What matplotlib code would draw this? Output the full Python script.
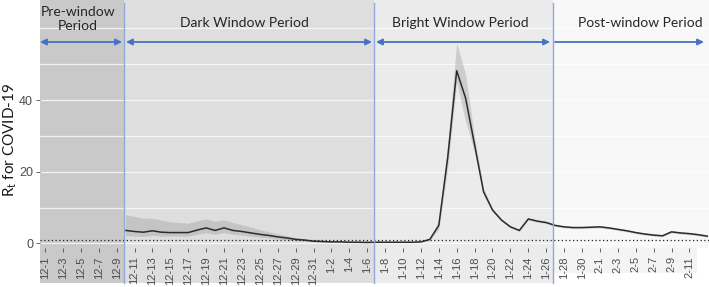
import matplotlib
matplotlib.use("Agg")
import matplotlib.pyplot as plt
import matplotlib.transforms as mtransforms
from matplotlib.patches import Rectangle
from matplotlib import font_manager
import numpy as np
import pandas as pd

# ---------------- data ----------------
start_date = "2020-12-01"
end_date = "2021-02-13"
est_start = "2020-12-10"   # first day with an Rt estimate

rt = [3.6, 3.3, 3.1, 3.5, 3.1, 3.0, 3.0, 3.0, 3.7, 4.3, 3.6, 4.3, 3.6, 3.3,
      2.9, 2.5, 2.2, 1.8, 1.5, 1.1, 0.9, 0.6, 0.5, 0.4, 0.4, 0.3, 0.3, 0.25,
      0.3, 0.3, 0.3, 0.3, 0.3, 0.4, 1.1, 5.0, 24.0, 48.2, 40.5, 27.5, 14.4,
      9.3, 6.5, 4.6, 3.6, 6.8, 6.2, 5.8, 5.0, 4.6, 4.4, 4.4, 4.5, 4.6, 4.3,
      3.9, 3.5, 3.0, 2.6, 2.3, 2.1, 3.2, 2.9, 2.7, 2.4, 2.0]
rt_upper = [8.0, 7.5, 7.0, 7.0, 6.5, 6.0, 5.8, 5.6, 6.3, 6.8, 6.2, 6.5, 5.8,
            5.2, 4.5, 3.8, 3.2, 2.6, 2.1, 1.6, 1.3, 0.9, 0.8, 0.6, 0.6, 0.5,
            0.5, 0.45, 0.5, 0.5, 0.5, 0.5, 0.5, 0.6, 1.5, 6.5, 28.0, 56.0,
            47.0, 29.5, 15.3, 9.8, 6.8, 4.9, 3.9, 7.1, 6.5, 6.1, 5.3, 4.9,
            4.7, 4.7, 4.8, 4.9, 4.6, 4.2, 3.8, 3.3, 2.9, 2.6, 2.4, 3.5, 3.2,
            3.0, 2.7, 2.3]
rt_lower = [2.2, 2.0, 1.9, 2.2, 2.0, 2.0, 2.0, 2.0, 2.5, 3.0, 2.5, 3.0, 2.5,
            2.3, 2.0, 1.7, 1.5, 1.2, 1.0, 0.7, 0.6, 0.4, 0.35, 0.3, 0.3, 0.2,
            0.2, 0.15, 0.2, 0.2, 0.2, 0.2, 0.2, 0.3, 0.8, 4.0, 21.0, 45.0,
            34.0, 25.5, 13.6, 8.8, 6.2, 4.3, 3.3, 6.5, 5.9, 5.5, 4.7, 4.3,
            4.1, 4.1, 4.2, 4.3, 4.0, 3.6, 3.2, 2.7, 2.3, 2.0, 1.8, 2.9, 2.6,
            2.4, 2.1, 1.7]
threshold = 1.0
period_names = ["Pre-window\nPeriod", "Dark Window Period",
                "Bright Window Period", "Post-window Period"]
y_ticks = [0, 20, 40]

# ---------------- derived ----------------
all_dates = pd.date_range(start_date, end_date)
est_dates = pd.date_range(est_start, periods=len(rt))
day0 = all_dates[0]
x_est = np.array([(d - day0).days for d in est_dates])
tick_days = np.arange(0, len(all_dates) - 1, 2)
tick_labels = [f"{all_dates[i].month}-{all_dates[i].day}" for i in tick_days]

# ---------------- style ----------------
W, H = 709, 287
fig = plt.figure(figsize=(W / 100, H / 100), dpi=100)
avail = {f.name for f in font_manager.fontManager.ttflist}
main_font = "Lato" if "Lato" in avail else "DejaVu Sans"
narrow_font = "Liberation Sans Narrow" if "Liberation Sans Narrow" in avail else "Liberation Sans"
plt.rcParams["mathtext.default"] = "regular"

ax = fig.add_axes([40 / W, 39 / H, 669 / W, 248 / H])
ax.set_facecolor("none")


def px2day(px):
    return (px - 45) / 8.95


xmin, xmax = px2day(40), px2day(709)
ax.set_xlim(xmin, xmax)
ax.set_ylim(-1.31, 67.96)
for s in ax.spines.values():
    s.set_visible(False)

trans = mtransforms.blended_transform_factory(ax.transData, ax.transAxes)
b1, b2, b3 = px2day(124), px2day(374), px2day(553)
below = -35 / 248

regions = [(xmin, b1, "#c9c9c9", below), (b1, b2, "#dedede", below),
           (b2, b3, "#ebebeb", below), (b3, xmax, "#f8f8f8", 0)]
for x0, x1, c, y0 in regions:
    ax.add_patch(Rectangle((x0, y0), x1 - x0, 1 - y0, transform=trans,
                           facecolor=c, edgecolor="none", zorder=0.1, clip_on=False))
# faint label strip under post-window
ax.add_patch(Rectangle((b3, -25 / 248), px2day(697) - b3, 25 / 248, transform=trans,
                       facecolor="#f4f4f4", edgecolor="none", zorder=0.1, clip_on=False))

for yv in range(0, 70, 10):
    ax.axhline(yv, color="white", lw=0.9, alpha=0.75, zorder=0.3)

# ribbon + line
ax.fill_between(x_est, rt_lower, rt_upper, color="#9a9a9a", alpha=0.38,
                linewidth=0, zorder=1)
ax.plot(x_est, rt, color="#2b2b2b", lw=1.1, zorder=2)
ax.axhline(threshold, color="#222222", lw=0.9, ls=(0, (1, 2)), zorder=2)

# boundaries
for b in (b1, b2, b3):
    ax.plot([b, b], [1 - 3 / 248, -35 / 248], transform=trans, color="#8eaadb",
            lw=1.0, clip_on=False, zorder=3)

# arrows
ya = (243.3 - 42) / 3.58
arrow_spans = [(40, 122, "<|-|>"), (126, 372, "<|-|>"), (376, 550, "<|-|>"),
               (555, 704, "-|>")]
for p0, p1, st in arrow_spans:
    ax.annotate("", xy=(px2day(p1), ya), xytext=(px2day(p0), ya),
                arrowprops=dict(arrowstyle=st, color="#4472c4", lw=1.3,
                                mutation_scale=9, shrinkA=0, shrinkB=0),
                zorder=4)

# headers
header_pos = [(78, 19), (244, 23), (460, 23), (640, 23)]
for name, (px, py) in zip(period_names, header_pos):
    fig.text(px / W, 1 - py / H, name, ha="center", va="center",
             fontsize=10, family=main_font, color="#262626",
             linespacing=1.2)

# ticks
ax.set_xticks(tick_days)
ax.set_xticklabels(tick_labels, rotation=90, family=narrow_font, fontsize=8,
                   color="#4d4d4d")
ax.set_yticks(y_ticks)
ax.set_yticklabels([str(v) for v in y_ticks], family=narrow_font, fontsize=9,
                   color="#4d4d4d")
ax.tick_params(axis="x", length=3, width=0.6, color="#4d4d4d", pad=3)
ax.tick_params(axis="y", length=3, width=0.6, color="#4d4d4d", pad=2)

fig.text(10 / W, 1 - 140 / H, "$R_t$ for COVID-19", rotation=90, ha="center",
         va="center", fontsize=11, family=main_font, color="#1a1a1a")

fig.savefig("out.png", dpi=100)
